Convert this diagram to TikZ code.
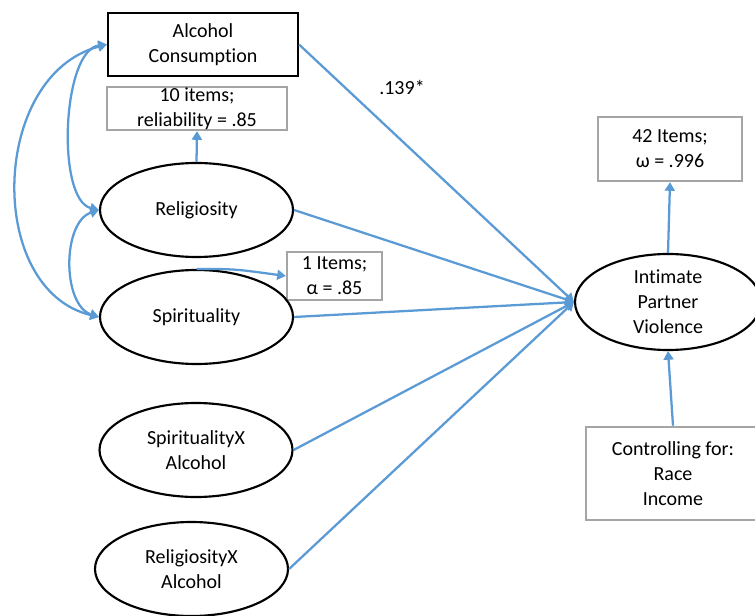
\documentclass[tikz,border=0pt]{standalone}
\usepackage{fontspec}
\setmainfont{Carlito}[Ligatures={NoCommon}]
\usetikzlibrary{arrows.meta,shapes.geometric}
\definecolor{lineblue}{RGB}{91,155,213}
\definecolor{boxgray}{RGB}{165,165,165}
\tikzset{
  every node/.style={font=\fontsize{15pt}{18.75pt}\selectfont, align=center},
  blackbox/.style={draw=black, line width=1.6pt, rectangle, inner sep=0pt},
  graybox/.style={draw=boxgray, line width=1.7pt, rectangle, inner sep=0pt},
  ell/.style={draw=black, line width=1.6pt, ellipse, inner sep=0pt, minimum width=144.75pt, minimum height=70.5pt},
  conn/.style={draw=lineblue, line width=1.7pt, -{Triangle[length=6.5pt,width=7.5pt]}},
  dconn/.style={draw=lineblue, line width=1.7pt, {Triangle[length=6.5pt,width=7.5pt]}-{Triangle[length=6.5pt,width=7.5pt]}}
}
\begin{document}
\begin{tikzpicture}[x=0.75pt,y=-0.75pt]
\clip (0,0) rectangle (755,616);
\fill[white] (0,0) rectangle (755,616);
% boxes
\node[blackbox, minimum width=142.5pt, minimum height=47.25pt] (alc) at (203,44.5) {Alcohol\\Consumption};
\node[graybox, minimum width=135pt, minimum height=32.25pt] (items10) at (197,108.5) {10 items;\\reliability = .85};
\node[graybox, minimum width=71.25pt, minimum height=36pt] (items1) at (334.5,276) {1 Items;\\α = .85};
\node[graybox, minimum width=108pt, minimum height=48pt] (items42) at (670,149) {42 Items;\\ω = .996};
\node[graybox, minimum width=130.5pt, minimum height=70pt] (ctrl) at (673,473.5) {Controlling for:\\Race\\Income};
% ellipses
\node[ell] (rel) at (196.5,210) {};
\node at (rel) {Religiosity};
\node[ell] (spi) at (196.5,317) {};
\node at (spi) {Spirituality};
\node[ell] (sxa) at (196,450) {};
\node at (sxa) {SpiritualityX\\Alcohol};
\node[ell] (rxa) at (191.5,569) {};
\node at (rxa) {ReligiosityX\\Alcohol};
\node[ell, minimum width=139.5pt, minimum height=72pt] (ipv) at (668,302) {};
\node at (ipv) {Intimate\\Partner\\Violence};
% label
\node (coef) at (402,87) {.139*};
% paths to IPV
\draw[conn] (alc.east) -- (ipv.west);
\draw[conn] (rel.east) -- (ipv.west);
\draw[conn] (spi.east) -- (ipv.west);
\draw[conn] (sxa.east) -- (ipv.west);
\draw[conn] (rxa.east) -- (ipv.west);
% measurement arrows
\draw[conn] (rel.north) -- (items10.south);
\draw[conn] (spi.north) .. controls (235,269) .. (items1.west);
\draw[conn] (ipv.north) -- (items42.south);
\draw[conn] (ctrl.north) -- (ipv.south);
% covariances
\draw[dconn] (alc.west) .. controls (62,50) and (56,200) .. (rel.west);
\draw[dconn] (alc.west) .. controls (-10,75) and (-15,290) .. (spi.west);
\draw[dconn] (rel.west) .. controls (62,222) and (62,305) .. (spi.west);
\end{tikzpicture}
\end{document}
